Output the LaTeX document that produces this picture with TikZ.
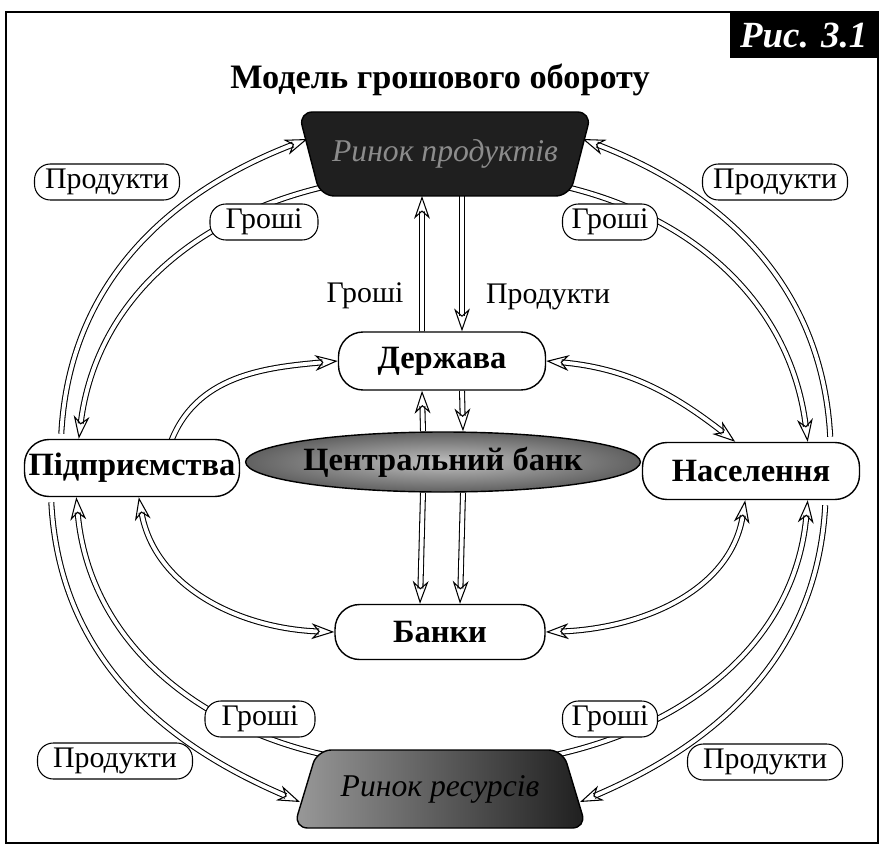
\documentclass[tikz,border=0pt]{standalone}
\usepackage{fontspec}
\setmainfont{Liberation Serif}
\usetikzlibrary{shapes.geometric,arrows.meta,calc,backgrounds}

\begin{document}
\begin{tikzpicture}[
  >={Stealth[open,length=13pt,width=9pt,inset=4pt]},
  flow/.style={line width=0.6pt, double, double distance=2.2pt},
  every edge/.append style={flow},
  agent/.style={draw, line width=0.8pt, rounded corners=14pt, fill=white,
    font=\fontsize{18.5}{22}\selectfont\bfseries, inner sep=0pt},
  tag/.style={draw, line width=0.6pt, rounded corners=9pt, fill=white,
    font=\fontsize{17}{20}\selectfont, inner sep=0pt, minimum height=0.72cm},
  market/.style={trapezium, trapezium angle=63, trapezium stretches=true,
    draw, line width=0.8pt, rounded corners=8pt, minimum width=5.86cm,
    font=\fontsize{18}{21}\selectfont\itshape}
]
  \useasboundingbox (0,0) rectangle (17.68,17.08);
  \draw[line width=1.6pt] (0.12,0.22) rectangle (17.56,16.84);

  % heading
  \node[fill=black, text=white, anchor=north east, minimum width=2.96cm,
    minimum height=0.92cm, font=\fontsize{21}{24}\selectfont\bfseries\itshape]
    (fig) at (17.56,16.84) {Рис. 3.1};
  \node[font=\fontsize{19.5}{22}\selectfont\bfseries] (title) at (8.8,15.48)
    {Модель грошового обороту};

  % markets
  \node[market, shape border rotate=180, fill=black!88, text=black!45,
    minimum height=1.68cm] (RP) at (8.9,14.0) {Ринок продуктів};
  \node[market, left color=black!40, right color=black!88, text=black,
    minimum height=1.56cm] (RR) at (8.8,1.3) {Ринок ресурсів};

  % agents
  \node[agent, minimum width=4.14cm, minimum height=1.16cm] (D) at (8.84,9.86) {Держава};
  \node[ellipse, draw, line width=0.8pt, inner color=black!25, outer color=black!62,
    minimum width=6.46cm, minimum height=1.2cm, inner sep=0pt,
    font=\fontsize{18.5}{22}\selectfont\bfseries] (CB) at (8.86,7.84) {Центральний банк};
  \node[agent, minimum width=4.2cm, minimum height=1.1cm] (B) at (8.8,4.44) {Банки};
  \node[agent, minimum width=4.3cm, minimum height=1.14cm] (P) at (2.64,7.72) {Підприємства};
  \node[agent, minimum width=4.34cm, minimum height=1.14cm] (N) at (15.02,7.66) {Населення};

  \begin{scope}[on background layer]
  % outer ring
  \path[->]
    ([xshift=7.5mm,yshift=1mm]P.north west) edge[out=87, in=201] ($(RP.center)+(-2.75,0.3)$)
    ($(RP.center)+(-1.9,-0.55)$) edge[out=190, in=83] ([xshift=11mm]P.north west)
    ([xshift=-6mm,yshift=1mm]N.north east) edge[out=93, in=-21] ($(RP.center)+(2.75,0.3)$)
    ($(RP.center)+(1.9,-0.55)$) edge[out=-10, in=97] ([xshift=-10.5mm]N.north east)
    ([xshift=5.5mm,yshift=-1mm]P.south west) edge[out=-87, in=157] ($(RR.center)+(-2.8,-0.26)$)
    ($(RR.center)+(-1.9,0.6)$) edge[out=170, in=-85] ([xshift=10.5mm]P.south west)
    ([xshift=-7mm,yshift=-1mm]N.south east) edge[out=-93, in=23] ($(RR.center)+(2.8,-0.26)$)
    ($(RR.center)+(1.9,0.6)$) edge[out=10, in=-95] ([xshift=-10.5mm]N.south east);

  % centre
  \path[->]
    ([xshift=-4mm]D.north) edge ($(RP.center)+(-0.46,-0.84)$)
    ($(RP.center)+(0.34,-0.7)$) edge ([xshift=4mm]D.north)
    ([xshift=-4mm]CB.north) edge ([xshift=-4mm]D.south)
    ([xshift=4mm]D.south) edge ([xshift=4mm]CB.north)
    ([xshift=-4mm]CB.south) edge ([xshift=-4mm]B.north)
    ([xshift=4mm]CB.south) edge ([xshift=4mm]B.north)
    ([xshift=-14mm,yshift=-1mm]P.north east) edge[out=70, in=185] (D.west);
  \path[<->]
    (D.east) edge[out=-5, in=142] ([xshift=-25mm]N.north east)
    ([xshift=23mm]P.south west) edge[out=-80, in=178] (B.west)
    (B.east) edge[out=2, in=-99] ([xshift=-23mm]N.south east);
  \end{scope}

  % labels
  \node[tag, minimum width=2.9cm] (Pr1) at (2.14,13.44) {Продукти};
  \node[tag, minimum width=2.16cm] (G1) at (5.28,12.64) {Гроші};
  \node[tag, minimum width=2.9cm] (Pr2) at (15.5,13.44) {Продукти};
  \node[tag, minimum width=1.9cm] (G2) at (12.2,12.64) {Гроші};
  \node[font=\fontsize{17}{20}\selectfont] (G0) at (7.3,11.16) {Гроші};
  \node[font=\fontsize{17}{20}\selectfont] (Pr0) at (10.96,11.14) {Продукти};
  \node[tag, minimum width=2.2cm] (G3) at (5.2,2.7) {Гроші};
  \node[tag, minimum width=3.1cm] (Pr3) at (2.3,1.86) {Продукти};
  \node[tag, minimum width=1.9cm] (G4) at (12.2,2.7) {Гроші};
  \node[tag, minimum width=3.1cm] (Pr4) at (15.3,1.84) {Продукти};
\end{tikzpicture}
\end{document}
